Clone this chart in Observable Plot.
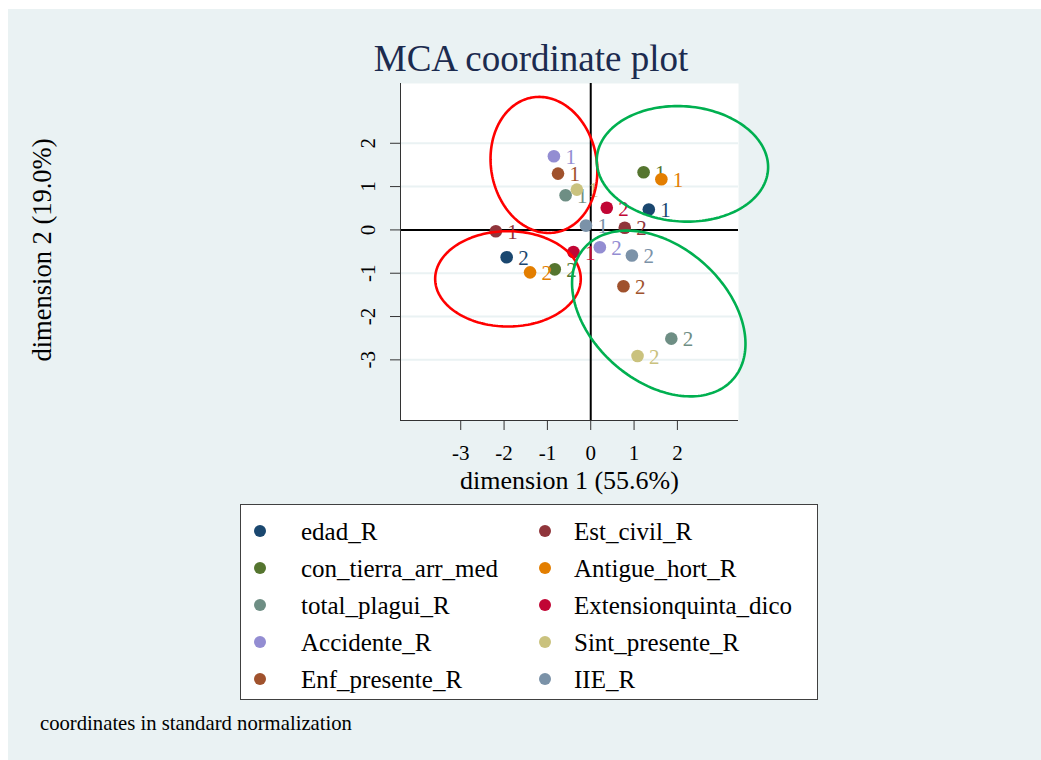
<!DOCTYPE html>
<html><head><meta charset="utf-8">
<script src="https://cdn.jsdelivr.net/npm/d3@7"></script>
<script src="https://cdn.jsdelivr.net/npm/@observablehq/plot@0.6"></script>
<style>
html,body{margin:0;padding:0;background:#fff;}
#stage{position:relative;width:1041px;height:760px;overflow:hidden;font-family:"Liberation Serif","Times New Roman",serif;}
#bg{position:absolute;left:8px;top:9px;right:0;bottom:0;background:#eaf2f3;}
#title{position:absolute;left:531px;top:40px;transform:translateX(-50%);font-size:37px;line-height:37px;color:#1c2b4f;white-space:nowrap;}
#chart{position:absolute;left:0;top:70px;}
#legend{position:absolute;left:240px;top:504px;width:576px;height:194px;border:1px solid #404040;background:#fff;}
.item{position:absolute;height:30px;line-height:30px;font-size:25px;white-space:nowrap;color:#000;}
.sw{position:absolute;width:12.6px;height:12.6px;border-radius:50%;}
#caption{position:absolute;left:40px;top:713px;font-size:20.7px;line-height:20px;color:#000;white-space:nowrap;}
</style></head>
<body>
<div id="stage">
  <div id="bg"></div>
  <div id="title">MCA coordinate plot</div>
  <div id="chart"></div>
  <div id="legend"></div>
  <div id="caption">coordinates in standard normalization</div>
</div>
<script>
// ---- data ----
const names = ["edad_R","Est_civil_R","con_tierra_arr_med","Antigue_hort_R","total_plagui_R","Extensionquinta_dico","Accidente_R","Sint_presente_R","Enf_presente_R","IIE_R"];
const colors = ["#1a476f","#90353b","#55752f","#e37e00","#6e8e84","#c10534","#938dd2","#cac27e","#a0522d","#7b92a8"];
const cat1X = [1.34,-2.19,1.22,1.63,-0.58,-0.40,-0.85,-0.32,-0.755,-0.11];
const cat1Y = [0.47,-0.03,1.33,1.17,0.80,-0.51,1.70,0.93,1.30,0.10];
const cat2X = [-1.94,0.785,-0.83,-1.40,1.86,0.37,0.21,1.08,0.755,0.95];
const cat2Y = [-0.63,0.05,-0.91,-0.98,-2.51,0.51,-0.40,-2.91,-1.30,-0.59];
const catLabels = ["1","2"];
const xTicks = [-3,-2,-1,0,1,2];
const yTicks = [-3,-2,-1,0,1,2];
const xDomain = [-4.39,3.41];
const yDomain = [-4.40,3.38];
const xTitle = "dimension 1 (55.6%)";
const yTitle = "dimension 2 (19.0%)";
// hand-drawn ellipses: centre, semi-axes, rotation (degrees, data space)
const ellCx = [-1.08, 2.116, -1.91, 1.57];
const ellCy = [1.50, 1.525, -1.13, -1.93];
const ellA  = [1.58, 1.98, 1.68, 2.29];
const ellB  = [1.22, 1.33, 1.10, 1.556];
const ellAng = [-80, -4, 0, -41.5];
const ellColor = ["#ff0000","#00b050","#ff0000","#00b050"];

// ---- build ----
const pts = names.flatMap((n,i)=>[
  {i, name:n, cat:catLabels[0], x:cat1X[i], y:cat1Y[i]},
  {i, name:n, cat:catLabels[1], x:cat2X[i], y:cat2Y[i]}
]);
const ellPts = ellCx.flatMap((cx,k)=>{
  const th = ellAng[k]*Math.PI/180;
  return d3.range(0,361,2).map(t=>{
    const u = ellA[k]*Math.cos(t*Math.PI/180), v = ellB[k]*Math.sin(t*Math.PI/180);
    return {k, color: ellColor[k], x: cx + u*Math.cos(th) - v*Math.sin(th), y: ellCy[k] + u*Math.sin(th) + v*Math.cos(th)};
  });
});

const seriesMarks = names.flatMap((n,i)=>{
  const d = pts.filter(p=>p.i===i);
  return [
    Plot.dot(d, {x:"x", y:"y", r:6.3, fill:colors[i], stroke:null}),
    Plot.text(d, {x:"x", y:"y", text:"cat", dx:11.5, dy:1, textAnchor:"start", fill:colors[i], fontSize:21})
  ];
});

const chart = Plot.plot({
  width: 1041, height: 430,
  marginLeft: 400, marginRight: 303, marginTop: 13, marginBottom: 80,
  style: {background:"transparent", fontFamily:"'Liberation Serif','Times New Roman',serif", fontSize:"21px", color:"#000", overflow:"visible"},
  x: {domain: xDomain, axis: null},
  y: {domain: yDomain, axis: null},
  marks: [
    Plot.frame({fill:"white", stroke:null}),
    Plot.gridY(yTicks, {stroke:"#eaf2f3", strokeWidth:2, strokeOpacity:1}),
    Plot.ruleX([0], {stroke:"#000", strokeWidth:2}),
    Plot.ruleY([0], {stroke:"#000", strokeWidth:2}),
    Plot.ruleX([xDomain[0]], {stroke:"#333", strokeWidth:1}),
    Plot.ruleY([yDomain[0]], {stroke:"#333", strokeWidth:1}),
    Plot.axisX(xTicks, {tickSize:10, tickPadding:15, tickFormat:d=>String(d), fontSize:21, stroke:"#333", label:null}),
    Plot.axisY(yTicks, {tickSize:10, tickPadding:16, tickRotate:-90, tickFormat:d=>String(d), fontSize:21, stroke:"#333", label:null}),
    Plot.text([xTitle], {frameAnchor:"bottom", text:d=>d, dy:68, textAnchor:"middle", lineAnchor:"bottom", fontSize:26, fill:"#000"}),
    Plot.text([yTitle], {frameAnchor:"left", text:d=>d, rotate:-90, dx:-350, dy:-2, textAnchor:"middle", lineAnchor:"bottom", fontSize:26.5, fill:"#000"}),
    ...seriesMarks,
    Plot.line(ellPts, {x:"x", y:"y", z:"k", stroke:"color", strokeWidth:2.6, curve:"linear"})
  ]
});
document.getElementById("chart").appendChild(chart);

// legend
const legend = document.getElementById("legend");
const rowY = [26, 63, 100, 137, 174]; // marker centres relative to box
const colMarkX = [19, 304];
const colTextX = [60, 333];
names.forEach((n,i)=>{
  const col = i % 2, row = Math.floor(i/2);
  const sw = document.createElement("div");
  sw.className = "sw";
  sw.style.background = colors[i];
  sw.style.left = (colMarkX[col]-6.3)+"px";
  sw.style.top = (rowY[row]-6.3)+"px";
  legend.appendChild(sw);
  const it = document.createElement("div");
  it.className = "item";
  it.textContent = n;
  it.style.left = colTextX[col]+"px";
  it.style.top = (rowY[row]-14)+"px";
  legend.appendChild(it);
});
</script>
</body></html>
